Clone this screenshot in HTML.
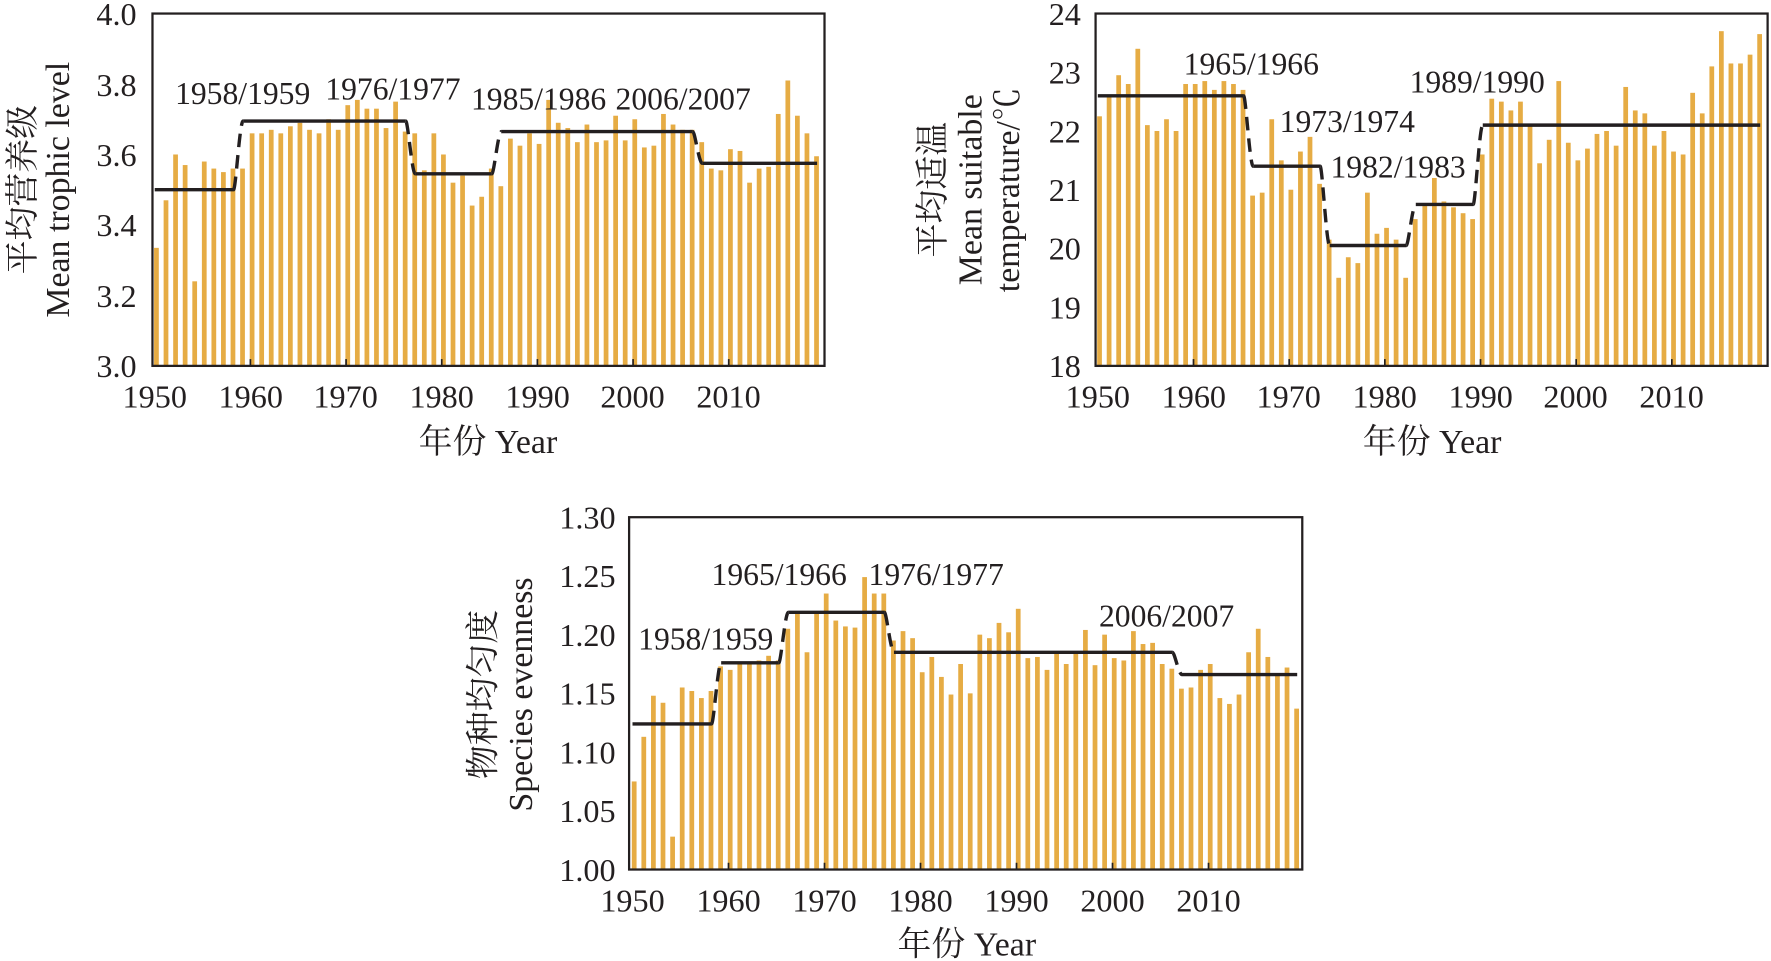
<!DOCTYPE html>
<html><head><meta charset="utf-8"><style>
html,body{margin:0;padding:0;background:#fff;}
svg{display:block;}
text{font-family:"Liberation Serif","Noto Serif CJK SC","Noto Sans CJK SC",serif;fill:#231f20;}
.t{font-size:28.5px;}
.a{font-size:28px;}
.b{font-size:30px;}
</style></head><body>
<svg id="s" width="1771" height="961" viewBox="0 0 1568 851" preserveAspectRatio="none" xmlns="http://www.w3.org/2000/svg">
<g id="bars"></g>
<g id="lines"></g>
<!-- chart1 -->
<rect x="135" y="12" width="595" height="312" fill="none" stroke="#231f20" stroke-width="2"/>
<g class="t" text-anchor="end">
<text x="121" y="22">4.0</text><text x="121" y="85">3.8</text><text x="121" y="147">3.6</text>
<text x="121" y="209">3.4</text><text x="121" y="272">3.2</text><text x="121" y="334">3.0</text>
</g>
<g class="t" text-anchor="middle">
<text x="137" y="361">1950</text><text x="222" y="361">1960</text><text x="306" y="361">1970</text><text x="391" y="361">1980</text><text x="476" y="361">1990</text><text x="560" y="361">2000</text><text x="645" y="361">2010</text>
</g>
<text class="b" x="432" y="401" text-anchor="middle">年份 Year</text>
<text class="b" transform="translate(30,168) rotate(-90)" text-anchor="middle">平均营养级</text>
<text class="b" transform="translate(61,168) rotate(-90)" text-anchor="middle">Mean trophic level</text>
<g class="a"><text x="155" y="92">1958/1959</text><text x="288" y="88">1976/1977</text><text x="417" y="97">1985/1986</text><text x="545" y="97">2006/2007</text></g>
<!-- chart2 -->
<rect x="970" y="12" width="595" height="312" fill="none" stroke="#231f20" stroke-width="2"/>
<g class="t" text-anchor="end">
<text x="957" y="22">24</text><text x="957" y="74">23</text><text x="957" y="126">22</text><text x="957" y="178">21</text><text x="957" y="230">20</text><text x="957" y="282">19</text><text x="957" y="334">18</text>
</g>
<g class="t" text-anchor="middle">
<text x="972" y="361">1950</text><text x="1057" y="361">1960</text><text x="1141" y="361">1970</text><text x="1226" y="361">1980</text><text x="1311" y="361">1990</text><text x="1395" y="361">2000</text><text x="1480" y="361">2010</text>
</g>
<text class="b" x="1268" y="401" text-anchor="middle">年份 Year</text>
<text class="b" transform="translate(836,168) rotate(-90)" text-anchor="middle">平均适温</text>
<text class="b" transform="translate(869,168) rotate(-90)" text-anchor="middle">Mean suitable</text>
<text class="b" transform="translate(902,168) rotate(-90)" text-anchor="middle">temperature/℃</text>
<g class="a"><text x="1048" y="66">1965/1966</text><text x="1133" y="117">1973/1974</text><text x="1178" y="157">1982/1983</text><text x="1248" y="82">1989/1990</text></g>
<!-- chart3 -->
<rect x="557" y="458" width="596" height="312" fill="none" stroke="#231f20" stroke-width="2"/>
<g class="t" text-anchor="end">
<text x="545" y="468">1.30</text><text x="545" y="520">1.25</text><text x="545" y="572">1.20</text><text x="545" y="624">1.15</text><text x="545" y="676">1.10</text><text x="545" y="728">1.05</text><text x="545" y="780">1.00</text>
</g>
<g class="t" text-anchor="middle">
<text x="560" y="807">1950</text><text x="645" y="807">1960</text><text x="730" y="807">1970</text><text x="815" y="807">1980</text><text x="900" y="807">1990</text><text x="985" y="807">2000</text><text x="1070" y="807">2010</text>
</g>
<text class="b" x="856" y="846" text-anchor="middle">年份 Year</text>
<text class="b" transform="translate(438,615) rotate(-90)" text-anchor="middle">物种均匀度</text>
<text class="b" transform="translate(471,615) rotate(-90)" text-anchor="middle">Species evenness</text>
<g class="a"><text x="565" y="575">1958/1959</text><text x="630" y="518">1965/1966</text><text x="769" y="518">1976/1977</text><text x="973" y="555">2006/2007</text></g>
</svg>
<script>
const NS="http://www.w3.org/2000/svg";
const charts=[
{x0:137,dx:8.47,ybot:324,ytop:12,vmin:3.0,vmax:4.0,
d:[3.335,3.47,3.60,3.57,3.24,3.58,3.56,3.55,3.56,3.56,3.66,3.66,3.67,3.66,3.68,3.69,3.67,3.66,3.70,3.67,3.74,3.755,3.73,3.73,3.675,3.75,3.665,3.66,3.555,3.66,3.60,3.52,3.54,3.455,3.48,3.56,3.51,3.645,3.625,3.66,3.63,3.755,3.69,3.675,3.635,3.685,3.635,3.64,3.71,3.64,3.70,3.62,3.625,3.715,3.685,3.67,3.67,3.635,3.56,3.555,3.615,3.61,3.52,3.56,3.565,3.715,3.81,3.71,3.66,3.595],
seg:[[1950,1958,3.50],[1959,1976,3.695],[1977,1985,3.545],[1986,2006,3.665],[2007,2019,3.575]]},
{x0:972,dx:8.47,ybot:324,ytop:12,vmin:18,vmax:24,
d:[22.25,22.6,22.95,22.8,23.4,22.1,22.0,22.2,22.0,22.8,22.8,22.85,22.7,22.85,22.8,22.7,20.9,20.95,22.2,21.5,21.0,21.65,21.9,21.1,20.15,19.5,19.85,19.75,20.95,20.25,20.35,20.15,19.5,20.5,20.75,21.2,20.8,20.7,20.6,20.5,21.6,22.55,22.5,22.35,22.5,22.1,21.45,21.85,22.85,21.8,21.5,21.7,21.95,22.0,21.75,22.75,22.35,22.3,21.75,22.0,21.65,21.6,22.65,22.3,23.1,23.7,23.15,23.15,23.3,23.65],
seg:[[1950,1965,22.6],[1966,1973,21.4],[1974,1982,20.05],[1983,1989,20.75],[1990,2019,22.1]]},
{x0:560,dx:8.5,ybot:770,ytop:458,vmin:1.0,vmax:1.3,
d:[1.075,1.113,1.148,1.142,1.028,1.155,1.152,1.146,1.152,1.173,1.17,1.175,1.175,1.178,1.182,1.178,1.205,1.218,1.185,1.218,1.235,1.212,1.207,1.206,1.249,1.235,1.235,1.195,1.203,1.197,1.168,1.181,1.164,1.149,1.175,1.15,1.20,1.197,1.21,1.202,1.222,1.18,1.181,1.17,1.185,1.175,1.185,1.204,1.174,1.20,1.18,1.178,1.203,1.192,1.193,1.175,1.171,1.154,1.155,1.17,1.175,1.146,1.141,1.149,1.185,1.205,1.181,1.165,1.172,1.137],
seg:[[1950,1958,1.124],[1959,1965,1.176],[1966,1976,1.219],[1977,2006,1.185],[2007,2019,1.166]]}];
const bars=document.getElementById("bars"),lines=document.getElementById("lines");
function el(p,t,a){const e=document.createElementNS(NS,t);for(const k in a)e.setAttribute(k,a[k]);p.appendChild(e);return e;}
charts.forEach(c=>{
 const Y=v=>c.ybot-(v-c.vmin)/(c.vmax-c.vmin)*(c.ybot-c.ytop);
 c.d.forEach((v,i)=>{const cx=c.x0+i*c.dx+1.5;el(bars,"rect",{x:cx-2.1,y:Y(v),width:4.2,height:c.ybot-Y(v),fill:"#e6ac44"});});
 for(let k=1;k<7;k++){const x=c.x0+k*10*c.dx;el(lines,"line",{x1:x,x2:x,y1:c.ybot,y2:c.ybot-6,stroke:"#231f20","stroke-width":1.5});}
 c.seg.forEach((s,i)=>{
  const xa=c.x0+(s[0]-1950)*c.dx+(i==0?0:2),xb=c.x0+(s[1]-1950)*c.dx+2;
  el(lines,"line",{x1:xa,x2:xb,y1:Y(s[2]),y2:Y(s[2]),stroke:"#231f20","stroke-width":3});
  if(i<c.seg.length-1){const n=c.seg[i+1];const xn=c.x0+(n[0]-1950)*c.dx+2;
   el(lines,"path",{d:`M${xb} ${Y(s[2])} C${xb+2} ${Y(s[2])} ${xn-3} ${Y(n[2])} ${xn} ${Y(n[2])}`,fill:"none",stroke:"#231f20","stroke-width":3,"stroke-dasharray":"12 7"});}
 });
});
</script>
</body></html>
